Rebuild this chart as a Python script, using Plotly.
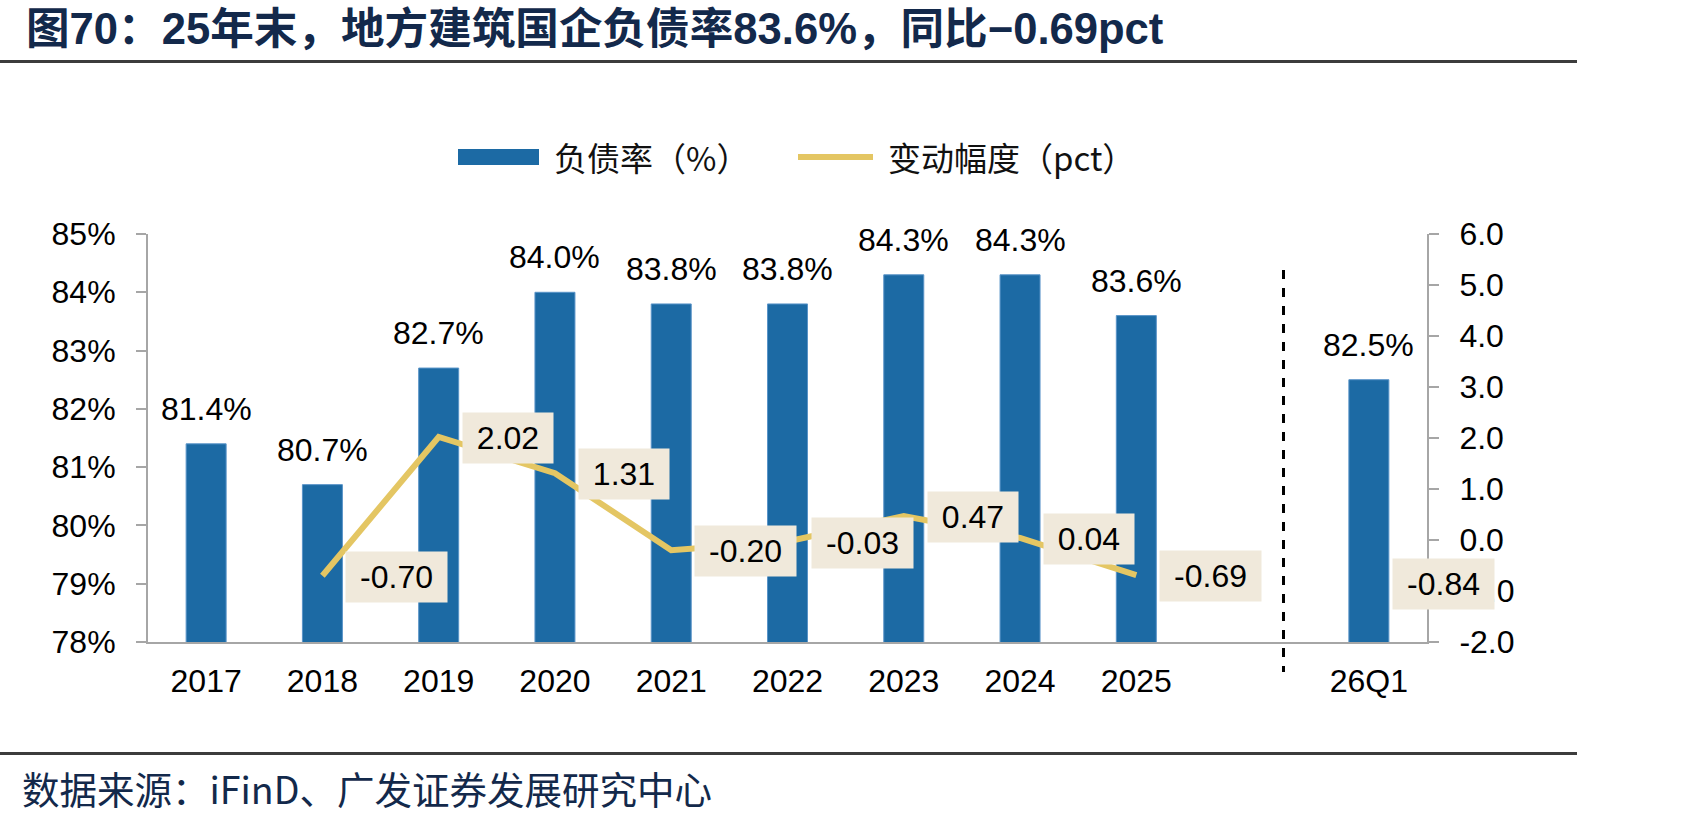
import plotly.graph_objects as go

# ---------------- data ----------------
categories = ['2017', '2018', '2019', '2020', '2021', '2022', '2023', '2024', '2025', ' ', '26Q1']
debt_ratio = [81.4, 80.7, 82.7, 84.0, 83.8, 83.8, 84.3, 84.3, 83.6, None, 82.5]
change_pct = [None, -0.70, 2.02, 1.31, -0.20, -0.03, 0.47, 0.04, -0.69, None, -0.84]

left_ticks = [78, 79, 80, 81, 82, 83, 84, 85]
left_ticktext = ['78%', '79%', '80%', '81%', '82%', '83%', '84%', '85%']
right_ticks = [-2, -1, 0, 1, 2, 3, 4, 5, 6]
right_ticktext = ['-2.0', '-1.0', '0.0', '1.0', '2.0', '3.0', '4.0', '5.0', '6.0']

title_text = '图70：25年末，地方建筑国企负债率83.6%，同比−0.69pct'
legend_bar = '负债率（%）'
legend_line = '变动幅度（pct）'
source_text = '数据来源：iFinD、广发证券发展研究中心'

# ---------------- style ----------------
W, H = 1690, 822
L, R, T, B = 148, 1427, 234, 642
PW, PH = R - L, B - T
BAR = '#1C6AA4'
GOLD = '#E4C663'
BOX = '#F0E9DB'
NAVY = '#13294B'
AXIS = '#A6A6A6'
FONT = 'Liberation Sans, Arial, Noto Sans CJK SC'
CJK = 'Noto Sans CJK SC, Liberation Sans'


def px_x(p):
    return (p - L) / PW


def px_y(p):
    return (B - p) / PH


def text_w(s, size):
    w = {'-': 0.333, '.': 0.278}
    return sum(w.get(c, 0.556) for c in s) * size


fig = go.Figure()
fig.add_trace(go.Bar(
    x=categories, y=debt_ratio, marker=dict(color=BAR, line=dict(color='#5A94C8', width=1)),
    yaxis='y', showlegend=False, hoverinfo='skip'))
fig.add_trace(go.Scatter(
    x=categories, y=change_pct, mode='lines', line=dict(color=GOLD, width=6),
    yaxis='y2', connectgaps=False, showlegend=False, hoverinfo='skip'))

annotations = []
# bar labels (x given as category index so numeric-looking names are not misread)
for i, v in enumerate(debt_ratio):
    if v is None:
        continue
    annotations.append(dict(x=i, y=v, xref='x', yref='y', text=f'{v:.1f}%', showarrow=False,
                            yanchor='bottom', yshift=15, font=dict(family=FONT, size=32, color='#000000')))
# line labels
for i, v in enumerate(change_pct):
    if v is None:
        continue
    t = f'{v:.2f}'
    annotations.append(dict(x=i, y=v, xref='x', yref='y2', text=t, showarrow=False,
                            xanchor='left', yanchor='middle', xshift=23, yshift=-1,
                            bgcolor=BOX, borderpad=7, height=36, width=round(text_w(t, 32)) + 14,
                            font=dict(family=FONT, size=32, color='#000000')))
# legend texts
annotations.append(dict(x=px_x(552), y=px_y(157), xref='paper', yref='paper', text=legend_bar,
                        showarrow=False, xanchor='left', yanchor='middle',
                        font=dict(family=CJK, size=33, color='#111111')))
annotations.append(dict(x=px_x(886), y=px_y(157), xref='paper', yref='paper', text=legend_line,
                        showarrow=False, xanchor='left', yanchor='middle',
                        font=dict(family=CJK, size=33, color='#111111')))
# source
annotations.append(dict(x=px_x(20), y=px_y(787), xref='paper', yref='paper', text=source_text,
                        showarrow=False, xanchor='left', yanchor='middle',
                        font=dict(family=CJK, size=37.5, color=NAVY)))

shapes = [
    # title rule
    dict(type='line', xref='paper', yref='paper', x0=px_x(0), x1=px_x(1577), y0=px_y(61.5), y1=px_y(61.5),
         line=dict(color='#3C3C3C', width=3)),
    # bottom rule
    dict(type='line', xref='paper', yref='paper', x0=px_x(0), x1=px_x(1577), y0=px_y(753.5), y1=px_y(753.5),
         line=dict(color='#3C3C3C', width=3)),
    # dashed separator
    dict(type='line', xref='paper', yref='paper', x0=px_x(1283.5), x1=px_x(1283.5), y0=px_y(270), y1=px_y(672),
         line=dict(color='#000000', width=3, dash='dash')),
    # legend symbols
    dict(type='rect', xref='paper', yref='paper', x0=px_x(458), x1=px_x(539), y0=px_y(149), y1=px_y(165),
         fillcolor=BAR, line=dict(width=0)),
    dict(type='line', xref='paper', yref='paper', x0=px_x(798), x1=px_x(873), y0=px_y(157), y1=px_y(157),
         line=dict(color=GOLD, width=6)),
]

fig.update_layout(
    width=W, height=H,
    margin=dict(l=L, r=W - R, t=T, b=H - B, pad=0),
    paper_bgcolor='white', plot_bgcolor='white',
    bargap=0.656,
    title=dict(text=f'<b>{title_text}</b>', xref='container', yref='container', x=26 / W, xanchor='left',
               y=1 - 29 / H, yanchor='middle', font=dict(family=FONT, size=43.6, color=NAVY)),
    xaxis=dict(type='category', categoryorder='array', categoryarray=categories,
               range=[-0.5, len(categories) - 0.5],
               showline=True, linecolor=AXIS, linewidth=2, ticks='', showgrid=False,
               tickfont=dict(family=FONT, size=32, color='#000000'), ticklabelstandoff=10),
    yaxis=dict(range=[78, 85], tickvals=left_ticks, ticktext=left_ticktext, showgrid=False,
               showline=True, linecolor=AXIS, linewidth=2, ticks='outside', ticklen=10,
               tickcolor=AXIS, tickwidth=2, zeroline=False,
               tickfont=dict(family=FONT, size=32, color='#000000'), ticklabelstandoff=14),
    yaxis2=dict(range=[-2, 6], tickvals=right_ticks, ticktext=right_ticktext, overlaying='y', side='right',
                showgrid=False, showline=True, linecolor=AXIS, linewidth=2, ticks='outside', ticklen=10,
                tickcolor=AXIS, tickwidth=2, zeroline=False,
                tickfont=dict(family=FONT, size=32, color='#000000'), ticklabelstandoff=14),
    annotations=annotations,
    shapes=shapes,
    showlegend=False,
)

fig.write_html('out.html')
